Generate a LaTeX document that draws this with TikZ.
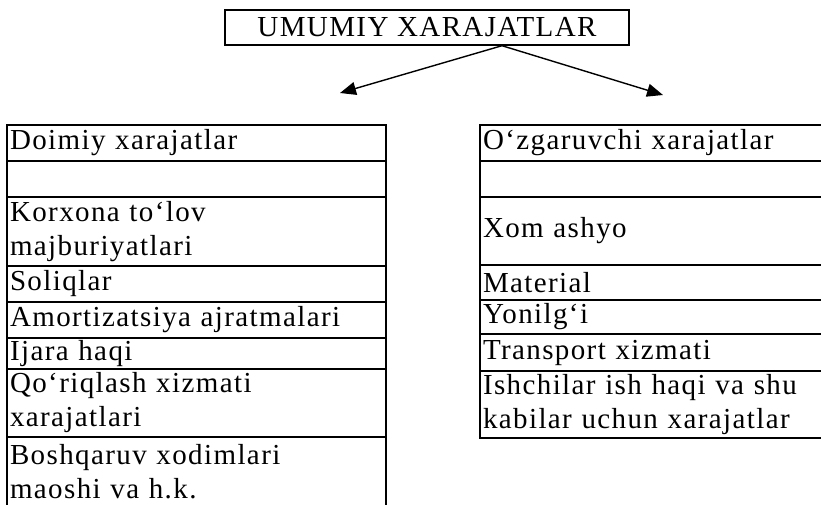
\documentclass[tikz,border=0pt]{standalone}
\usepackage{fontspec}
\setmainfont{Liberation Serif}[LetterSpace=4.8]
\usetikzlibrary{positioning}
\usetikzlibrary{arrows.meta}

\tikzset{
    cell/.style={draw, line width=1.4pt, outer sep=0pt, inner xsep=3pt, inner ysep=0pt,
        align=left, text width=#1, font=\fontsize{29}{34}\selectfont},
    leftcell/.style={cell=373pt},
    rightcell/.style={cell=344pt},
    split/.style={line width=1.4pt, -{Triangle[length=16pt, width=13pt]}}
}

\begin{document}
\begin{tikzpicture}[x=1pt, y=-1pt]
    \useasboundingbox (0,0) rectangle (821,504);

    % Khung tieu de
    \node[draw, line width=1.4pt, minimum width=404pt, minimum height=35pt, inner sep=0pt,
        font=\fontsize{29}{34}\selectfont] (header) at (427,27.5) {UMUMIY XARAJATLAR};

    % Cot trai
    \node[leftcell, minimum height=36pt, anchor=north west] (doimiy) at (7,125) {Doimiy xarajatlar};
    \node[leftcell, minimum height=36pt, below=0pt of doimiy] (bosh1) {};
    \node[leftcell, minimum height=69pt, below=0pt of bosh1] (korxona) {Korxona to`lov\\majburiyatlari};
    \node[leftcell, minimum height=36pt, below=0pt of korxona] (soliq) {Soliqlar};
    \node[leftcell, minimum height=36pt, below=0pt of soliq] (amort) {Amortizatsiya ajratmalari};
    \node[leftcell, minimum height=31pt, below=0pt of amort] (ijara) {Ijara haqi};
    \node[leftcell, minimum height=68pt, below=0pt of ijara] (qoriq) {Qo`riqlash xizmati\\xarajatlari};
    \node[leftcell, minimum height=68.5pt, below=0pt of qoriq] (boshqar) {Boshqaruv xodimlari\\maoshi va h.k.};

    % Cot phai
    \node[rightcell, minimum height=36pt, anchor=north west] (ozgar) at (480,125) {O`zgaruvchi xarajatlar};
    \node[rightcell, minimum height=36pt, below=0pt of ozgar] (bosh2) {};
    \node[rightcell, minimum height=68pt, below=0pt of bosh2] (xom) {Xom ashyo};
    \node[rightcell, minimum height=35pt, below=0pt of xom] (material) {Material};
    \node[rightcell, minimum height=34pt, below=0pt of material] (yonilgi) {Yonilg`i};
    \node[rightcell, minimum height=37pt, below=0pt of yonilgi] (transport) {Transport xizmati};
    \node[rightcell, minimum height=67pt, below=0pt of transport] (ishchi) {Ishchilar ish haqi va shu\\kabilar uchun xarajatlar};

    % Mui ten
    \coordinate (fork) at (header.south -| 502,0);
    \coordinate (tipL) at (340,93);
    \coordinate (tipR) at (663,95);
    \draw[split] (fork) -- (tipL);
    \draw[split] (fork) -- (tipR);
\end{tikzpicture}
\end{document}
